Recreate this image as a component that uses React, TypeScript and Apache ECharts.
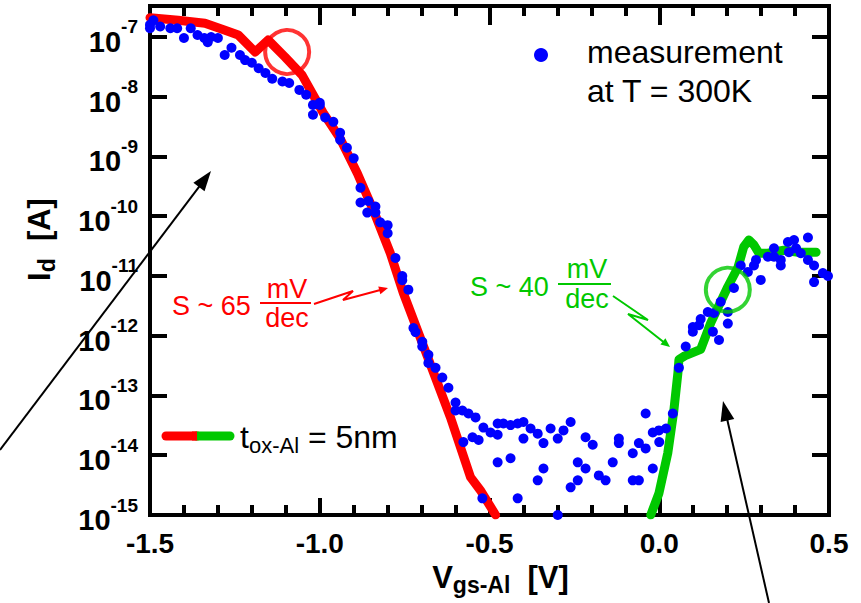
import React, { useEffect, useRef } from 'react';
import * as echarts from 'echarts';

// ---------- data ----------
// measurement at T = 300K : gate voltage [V] and drain current [A]
const blueX = [
  -1.5, -1.5, -1.49, -1.47, -1.44, -1.42, -1.4, -1.38, -1.36, -1.34, -1.33, -1.32, -1.3,
  -1.28, -1.26, -1.235, -1.22, -1.2, -1.18, -1.16, -1.14, -1.11, -1.09, -1.06, -1.04,
  -1.02, -1.0, -1.02, -1.0, -0.984, -0.96, -0.94, -0.94, -0.92, -0.9, -0.88, -0.88,
  -0.857, -0.86, -0.836, -0.836, -0.822, -0.8, -0.8, -0.777, -0.757, -0.757, -0.739,
  -0.724, -0.718, -0.698, -0.698, -0.68, -0.68, -0.659, -0.639, -0.621, -0.6, -0.6,
  -0.58, -0.562, -0.541, -0.577, -0.55, -0.532, -0.518, -0.497, -0.476, -0.476, -0.459,
  -0.438, -0.417, -0.4, -0.4, -0.379, -0.358, -0.341, -0.32, -0.299, -0.282, -0.261,
  -0.217, -0.196, -0.119, -0.119, -0.078, -0.06, -0.04, -0.04, -0.019, -0.001, 0.02,
  0.0, 0.04,
  -0.476, -0.438, -0.341, -0.358, -0.24, -0.217, -0.24, -0.261, -0.178, -0.158, -0.137,
  -0.078, -0.06, -0.019, -0.521, -0.417, -0.299,
  0.058, 0.078, 0.099, 0.099, 0.117, 0.122, 0.143, 0.161, 0.158, 0.181, 0.176, 0.202,
  0.202, 0.22, 0.24, 0.261, 0.279, 0.285, 0.299, 0.32, 0.338, 0.338, 0.358, 0.358, 0.379,
  0.382, 0.397, 0.403, 0.417, 0.438, 0.438, 0.456, 0.456, 0.482, 0.497,
];
const blueY = [
  1.6e-7, 1.4e-7, 1.9e-7, 1.5e-7, 1.4e-7, 1.4e-7, 9.6e-8, 1.4e-7, 1.08e-7, 9.6e-8, 8.2e-8, 1.0e-7, 9.6e-8,
  5.0e-8, 6.6e-8, 5.0e-8, 4.1e-8, 3.7e-8, 3.0e-8, 2.5e-8, 2.0e-8, 1.8e-8, 1.7e-8, 1.3e-8, 1.08e-8,
  7.3e-9, 7.3e-9, 5.0e-9, 7.9e-9, 4.5e-9, 3.8e-9, 2.5e-9, 1.9e-9, 1.4e-9, 9.3e-10, 3.0e-10, 1.7e-10,
  1.8e-10, 1.15e-10, 1.45e-10, 1.15e-10, 7.9e-11, 7.1e-11, 5.2e-11, 2.0e-11, 1.0e-11, 8.5e-12, 5.9e-12,
  1.35e-12, 1.15e-12, 7.9e-13, 6.6e-13, 4.8e-13, 3.5e-13, 2.9e-13, 2.0e-13, 1.35e-13, 7.6e-14, 5.6e-14,
  5.6e-14, 5.0e-14, 4.3e-14, 1.66e-14, 2.0e-14, 1.8e-14, 2.9e-14, 2.4e-14, 3.4e-14, 2.2e-14, 3.4e-14,
  3.2e-14, 3.4e-14, 3.6e-14, 1.9e-14, 2.8e-14, 2.3e-14, 1.6e-14, 2.8e-14, 1.9e-14, 2.6e-14, 3.6e-14,
  2.0e-14, 1.5e-14, 1.9e-14, 1.6e-14, 1.08e-14, 1.6e-14, 1.3e-14, 5.0e-14, 2.4e-14, 2.6e-14, 2.8e-14,
  1.66e-14, 5.0e-14,
  7.6e-15, 8.9e-15, 6.0e-15, 3.8e-15, 7.6e-15, 6.0e-15, 3.8e-15, 2.9e-15, 4.6e-15, 3.8e-15, 7.6e-15,
  3.8e-15, 3.8e-15, 6.0e-15, 1.9e-15, 1.9e-15, 1.0e-15,
  2.9e-13, 6.6e-13, 1.4e-12, 1.17e-12, 1.5e-12, 1.9e-12, 2.5e-12, 2.4e-12, 1.17e-12, 3.7e-12, 8.5e-13, 2.5e-12,
  1.6e-12, 6.3e-12, 1.5e-11, 1.17e-11, 1.5e-11, 1.86e-11, 8.6e-12, 2.1e-11, 2.9e-11, 2.1e-11, 1.86e-11, 1.5e-11, 3.7e-11,
  2.5e-11, 4.0e-11, 2.9e-11, 2.4e-11, 4.4e-11, 1.86e-11, 1.5e-11, 7.9e-12, 1.12e-11, 1.0e-11,
];

// simulation t_ox-Al = 5nm, n-branch (red) and p-branch (green)
const redX = [-1.5, -1.417, -1.338, -1.279, -1.24, -1.19, -1.152, -1.102, -1.052, -0.99, -0.94, -0.889, -0.842, -0.792, -0.754, -0.683, -0.615, -0.556, -0.527, -0.482];
const redY = [2.1e-7, 1.9e-7, 1.7e-7, 1.3e-7, 1.08e-7, 5.6e-8, 8.9e-8, 4.6e-8, 2.3e-8, 5.4e-9, 2.0e-9, 5.2e-10, 1.26e-10, 2.4e-11, 5.2e-12, 4.5e-13, 4.3e-14, 4.3e-15, 2.6e-15, 1.0e-15];
const greenX = [-0.025, -0.001, 0.025, 0.043, 0.055, 0.058, 0.075, 0.122, 0.152, 0.202, 0.232, 0.249, 0.264, 0.279, 0.294, 0.32, 0.367, 0.409, 0.462];
const greenY = [1.0e-15, 2.3e-15, 1.08e-14, 5.6e-14, 2.4e-13, 4.0e-13, 4.6e-13, 5.9e-13, 1.66e-12, 6.6e-12, 1.4e-11, 3.1e-11, 4.0e-11, 3.3e-11, 2.4e-11, 2.4e-11, 2.7e-11, 2.5e-11, 2.5e-11];

// highlighted points (circles)
const redCircle = [[-1.096, 5.6e-8]];
const greenCircle = [[0.202, 5.9e-12]];

const X_MIN = -1.5;
const X_MAX = 0.5;
const X_STEP = 0.5;
const Y_MIN = 1e-15;
const Y_MAX = 3.3e-7;

const FONT = "'Liberation Sans', Arial, Helvetica, sans-serif";
const RED = '#ff0000';
const GREEN = '#00c800';
const BLUE = '#0000ff';

function arrow(pts: number[][], color: string, lw: number, headLen: number, headHalf: number) {
  const n = pts.length;
  const tip = pts[n - 1];
  const prev = pts[n - 2];
  const dx = tip[0] - prev[0];
  const dy = tip[1] - prev[1];
  const L = Math.hypot(dx, dy);
  const ux = dx / L;
  const uy = dy / L;
  const bx = tip[0] - ux * headLen;
  const by = tip[1] - uy * headLen;
  const linePts = pts.slice(0, n - 1).concat([[bx + ux * 2, by + uy * 2]]);
  return [
    { type: 'polyline', shape: { points: linePts }, style: { stroke: color, lineWidth: lw, fill: null }, z: 100 },
    {
      type: 'polygon',
      shape: { points: [tip, [bx - uy * headHalf, by + ux * headHalf], [bx + uy * headHalf, by - ux * headHalf]] },
      style: { fill: color },
      z: 100,
    },
  ];
}

function txt(text: string, x: number, y: number, color: string, size: number, align = 'left') {
  return {
    type: 'text',
    x,
    y,
    z: 100,
    style: { text, fill: color, fontSize: size, fontFamily: FONT, align, verticalAlign: 'middle' },
  };
}

export default function App() {
  const ref = useRef<HTMLDivElement>(null);

  useEffect(() => {
    document.body.style.margin = '0';
    if (!ref.current) return;
    const chart = echarts.init(ref.current, null, { renderer: 'svg' });

    const tickStyle = { color: '#000', width: 4 };
    const lineStyleAx = { color: '#000', width: 4 };

    const option: any = {
      animation: false,
      backgroundColor: '#fff',
      grid: { left: 150, right: 32, top: 6, bottom: 88, show: true, borderColor: '#000', borderWidth: 4 },
      xAxis: [
        {
          type: 'value',
          min: X_MIN,
          max: X_MAX,
          interval: X_STEP,
          position: 'bottom',
          axisLine: { show: true, onZero: false, lineStyle: lineStyleAx },
          axisTick: { show: true, inside: true, length: 17, lineStyle: tickStyle },
          minorTick: { show: true, splitNumber: 5, length: 10, lineStyle: tickStyle },
          splitLine: { show: false },
          axisLabel: {
            margin: 14,
            formatter: (v: number) => v.toFixed(1),
            color: '#000',
            fontSize: 28,
            fontWeight: 'bold',
            fontFamily: FONT,
          },
          name: '{m|V}{s|gs-Al}{m|  [V]}',
          nameLocation: 'middle',
          nameGap: 44,
          nameTextStyle: {
            padding: [0, 0, 0, 22],
            rich: {
              m: { fontSize: 31, fontWeight: 'bold', fontFamily: FONT, color: '#000' },
              s: { fontSize: 23, fontWeight: 'bold', fontFamily: FONT, color: '#000', padding: [14, 0, 0, 0] },
            },
          },
        },
        {
          type: 'value',
          min: X_MIN,
          max: X_MAX,
          interval: X_STEP,
          position: 'top',
          axisLine: { show: true, onZero: false, lineStyle: lineStyleAx },
          axisTick: { show: true, inside: true, length: 19, lineStyle: tickStyle },
          minorTick: { show: true, splitNumber: 5, length: 10, lineStyle: tickStyle },
          splitLine: { show: false },
          axisLabel: { show: false },
        },
      ],
      yAxis: [
        {
          type: 'log',
          logBase: 10,
          min: Y_MIN,
          max: Y_MAX,
          position: 'left',
          axisLine: { show: true, onZero: false, lineStyle: lineStyleAx },
          axisTick: { show: true, inside: true, length: 17, lineStyle: tickStyle },
          minorTick: { show: false },
          splitLine: { show: false },
          axisLabel: {
            margin: 12,
            formatter: (v: number) => `{b|10}{s|${Math.round(Math.log10(v))}}`,
            rich: {
              b: { fontSize: 29, fontWeight: 'bold', fontFamily: FONT, color: '#000', padding: [10, 0, 0, 0] },
              s: { fontSize: 19, fontWeight: 'bold', fontFamily: FONT, color: '#000', verticalAlign: 'top' },
            },
          },
          name: '{m|I}{s|d}{m|  [A]}',
          nameLocation: 'middle',
          nameRotate: 90,
          nameGap: 92,
          nameTextStyle: {
            padding: [0, 0, 0, 42],
            rich: {
              m: { fontSize: 31, fontWeight: 'bold', fontFamily: FONT, color: '#000' },
              s: { fontSize: 23, fontWeight: 'bold', fontFamily: FONT, color: '#000', padding: [14, 0, 0, 0] },
            },
          },
        },
        {
          type: 'log',
          logBase: 10,
          min: Y_MIN,
          max: Y_MAX,
          position: 'right',
          axisLine: { show: true, onZero: false, lineStyle: lineStyleAx },
          axisTick: { show: true, inside: true, length: 17, lineStyle: tickStyle },
          splitLine: { show: false },
          axisLabel: { show: false },
        },
      ],
      series: [
        {
          name: 'tox-Al = 5nm (n)',
          type: 'line',
          data: redX.map((x, i) => [x, redY[i]]),
          showSymbol: false,
          symbol: 'none',
          lineStyle: { color: RED, width: 9, cap: 'round', join: 'round' },
          z: 2,
        },
        {
          name: 'tox-Al = 5nm (p)',
          type: 'line',
          data: greenX.map((x, i) => [x, greenY[i]]),
          showSymbol: false,
          symbol: 'none',
          lineStyle: { color: GREEN, width: 9, cap: 'round', join: 'round' },
          z: 2,
        },
        {
          name: 'measurement',
          type: 'scatter',
          data: blueX.map((x, i) => [x, blueY[i]]),
          symbol: 'circle',
          symbolSize: 10,
          itemStyle: { color: BLUE, opacity: 1 },
          z: 3,
        },
        {
          name: 'red circle',
          type: 'scatter',
          data: redCircle,
          symbol: 'circle',
          symbolSize: 44,
          itemStyle: { color: 'rgba(0,0,0,0)', borderColor: RED, borderWidth: 4 },
          z: 4,
        },
        {
          name: 'green circle',
          type: 'scatter',
          data: greenCircle,
          symbol: 'circle',
          symbolSize: 44,
          itemStyle: { color: 'rgba(0,0,0,0)', borderColor: GREEN, borderWidth: 4 },
          z: 4,
        },
      ],
      graphic: [
        // measurement legend
        { type: 'circle', shape: { cx: 541, cy: 55, r: 7 }, style: { fill: BLUE }, z: 100 },
        txt('measurement', 587, 52, '#000', 32),
        txt('at T = 300K', 587, 91, '#000', 32),
        // simulation legend
        { type: 'line', shape: { x1: 166, y1: 436, x2: 197, y2: 436 }, style: { stroke: RED, lineWidth: 9, lineCap: 'round' }, z: 100 },
        { type: 'line', shape: { x1: 197, y1: 436, x2: 230, y2: 436 }, style: { stroke: GREEN, lineWidth: 9, lineCap: 'round' }, z: 100 },
        { type: 'line', shape: { x1: 192, y1: 436, x2: 197, y2: 436 }, style: { stroke: RED, lineWidth: 9 }, z: 101 },
        {
          type: 'text',
          x: 240,
          y: 437,
          z: 100,
          style: {
            text: '{m|t}{s|ox-Al}{m| = 5nm}',
            verticalAlign: 'middle',
            rich: {
              m: { fontSize: 32, fontFamily: FONT, fill: '#000' },
              s: { fontSize: 22, fontFamily: FONT, fill: '#000', padding: [16, 0, 0, 0] },
            },
          },
        },
        // red slope annotation
        txt('S ~ 65', 172, 306, RED, 27),
        txt('mV', 287, 289, RED, 27, 'center'),
        { type: 'line', shape: { x1: 260, y1: 303, x2: 311, y2: 303 }, style: { stroke: RED, lineWidth: 2 }, z: 100 },
        txt('dec', 287, 318, RED, 27, 'center'),
        ...arrow([[314, 304], [353, 291], [343, 300], [388, 288]], RED, 2, 9, 4),
        // green slope annotation
        txt('S ~ 40', 470, 287, GREEN, 27),
        txt('mV', 587, 269, GREEN, 27, 'center'),
        { type: 'line', shape: { x1: 558, y1: 284, x2: 611, y2: 284 }, style: { stroke: GREEN, lineWidth: 2 }, z: 100 },
        txt('dec', 587, 299, GREEN, 27, 'center'),
        ...arrow([[613, 296], [648, 320], [628, 314], [670, 347]], GREEN, 2, 9, 4),
        // black arrows
        ...arrow([[0, 450], [211, 171]], '#000', 2, 20, 7),
        ...arrow([[769, 603], [723, 401]], '#000', 2, 20, 7),
      ],
    };

    chart.setOption(option);
    return () => chart.dispose();
  }, []);

  return <div ref={ref} style={{ width: 861, height: 603 }} />;
}
